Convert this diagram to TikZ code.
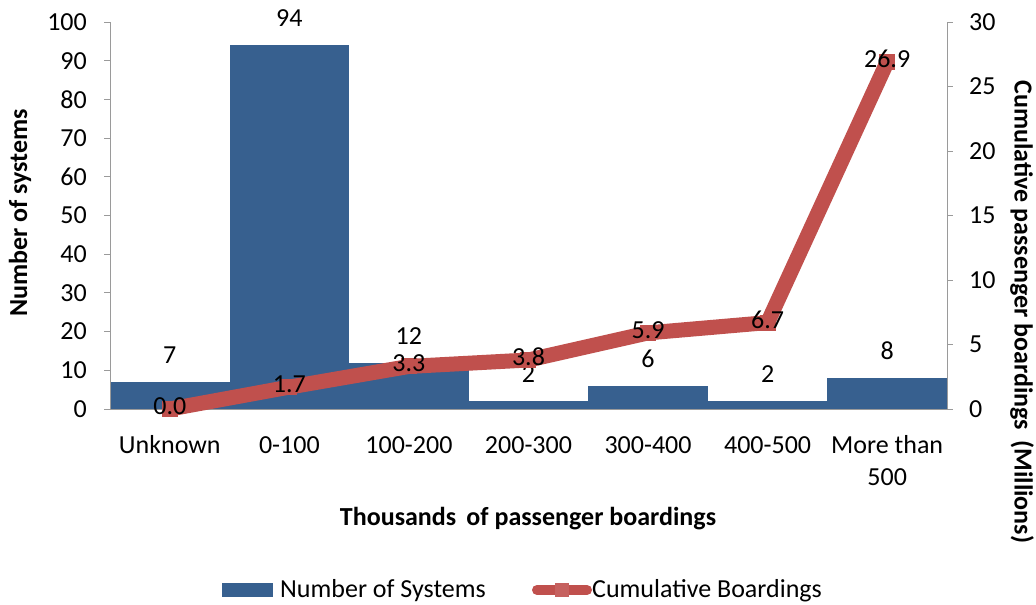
\documentclass[tikz,border=0pt]{standalone}
\usepackage{fontspec}
\setmainfont{Carlito}
\usetikzlibrary{positioning}
\definecolor{barblue}{HTML}{37608F}
\definecolor{linered}{HTML}{C0504D}
\definecolor{axisgray}{HTML}{9A9A9A}

\begin{document}
\begin{tikzpicture}[x=1pt, y=-1pt,
    every node/.style={font=\fontsize{26}{31}\selectfont, inner sep=0pt},
    axistitle/.style={font=\fontsize{26}{31}\selectfont\bfseries}]
  \useasboundingbox[fill=white] (0,0) rectangle (1036,605);

  % bars (left axis, 0..100)
  \foreach \v [count=\i from 0] in {7,94,12,2,6,2,8} {
    \fill[barblue] ({110+\i*119.56},409) rectangle ({110+(\i+1)*119.56},{409-\v*3.87});
    \node (bl\i) at ({169.8+\i*119.56},{409-\v*3.87-27}) {\v};
  }

  % axes
  \draw[axisgray, line width=1pt] (110,22) -- (110,409) -- (947,409) -- (947,22);
  \foreach \v in {0,10,...,100} {
    \draw[axisgray, line width=1pt] (104,{409-\v*3.87}) -- (110,{409-\v*3.87});
    \node[anchor=east] (lt\v) at (87,{409-\v*3.87}) {\v};
  }
  \foreach \v in {0,5,...,30} {
    \draw[axisgray, line width=1pt] (947,{409-\v*12.9}) -- (953,{409-\v*12.9});
    \node[anchor=west] (rt\v) at (969,{409-\v*12.9}) {\v};
  }

  % cumulative line (right axis, 0..30)
  \foreach \c [count=\i from 0] in {0.0,1.7,3.3,3.8,5.9,6.7,26.9}
    \coordinate (p\i) at ({169.8+\i*119.56},{409-\c*12.9});
  \draw[linered, line width=15pt, line join=round]
    (p0) -- (p1) -- (p2) -- (p3) -- (p4) -- (p5) -- (p6);
  \foreach \i in {0,...,6}
    \fill[linered] ([shift={(-8,-8)}]p\i) rectangle ([shift={(8,8)}]p\i);
  \foreach \c [count=\i from 0] in {0.0,1.7,3.3,3.8,5.9,6.7,26.9}
    \node (cl\i) at ([yshift=3]p\i) {\c};

  % category labels
  \foreach \t [count=\i from 0] in {Unknown,0-100,100-200,200-300,300-400,400-500} 
    \node[anchor=base] (cat\i) at ({169.8+\i*119.56},453) {\t};
  \node[anchor=base] (cat6) at ({169.8+6*119.56},453) {More than};
  \node[anchor=base] (cat6b) at ({169.8+6*119.56},485) {500};

  % axis titles
  \node[axistitle, anchor=base] (xtitle) at (528,525) {Thousands\, of passenger boardings};
  \node[axistitle, rotate=90] (ytitle) at (20,213) {Number of systems};
  \node[axistitle, rotate=-90] (y2title) at (1022,312) {Cumulative passenger boardings\, (Millions)};

  % legend
  \fill[barblue] (222,583) rectangle (273,597);
  \node[anchor=base west] (leg1) at (280,597) {Number of Systems};
  \draw[linered, line width=10pt, line cap=round] (537,590) -- (587,590);
  \fill[linered!90!white] (555,583) rectangle (569,597);
  \node[anchor=base west] (leg2) at (592,597) {Cumulative Boardings};
\end{tikzpicture}
\end{document}
